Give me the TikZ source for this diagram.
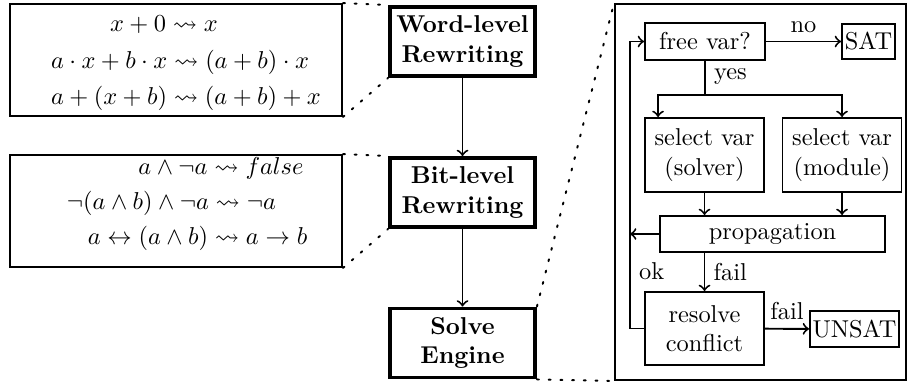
\documentclass[tikz,border=0pt]{standalone}
\usepackage{amsmath,amssymb}
\usetikzlibrary{positioning}
\usetikzlibrary{shapes.geometric, arrows}

\newdimen\px
\px=0.41pt

\begin{document}
\begin{tikzpicture}[x=\px, y=-\px]
\tikzstyle{stage} = [rectangle, draw, line width=1.6pt, font=\bfseries, align=center, minimum width=145\px, minimum height=69\px, inner sep=1pt]
\tikzstyle{rules} = [rectangle, draw, thick, minimum width=332\px, minimum height=112\px]
\tikzstyle{box} = [rectangle, draw, thick, align=center, inner sep=1pt]
\tikzstyle{arrow} = [thick,->]
\tikzstyle{zoomline} = [thick, loosely dotted, line cap=round]

\useasboundingbox (0,0) rectangle (907,381);

% rewriting rules
\node (wordrules) [rules] at (176,60) {};
\node (w1) at (164,25) {$x+0 \rightsquigarrow x$};
\node (w2) at (180,62) {$a\cdot x+b\cdot x \rightsquigarrow (a+b)\cdot x$};
\node (w3) at (186,98) {$a+(x+b) \rightsquigarrow (a+b)+x$};

\node (bitrules) [rules] at (176,211) {};
\node (b1) at (221,168) {$a\wedge\neg a \rightsquigarrow false$};
\node (b2) at (171.5,203) {$\neg(a\wedge b)\wedge\neg a \rightsquigarrow \neg a$};
\node (b3) at (197.5,238) {$a\leftrightarrow(a\wedge b) \rightsquigarrow a\rightarrow b$};

% pipeline
\node (word) [stage] at (462.5,41.5) {Word-level\\Rewriting};
\node (bit) [stage] at (462.5,192.5) {Bit-level\\Rewriting};
\node (solve) [stage] at (462.5,343) {Solve\\Engine};

\draw [arrow] (word) -- (bit);
\draw [arrow] (bit) -- (solve);

\draw [zoomline] (wordrules.north east) -- (word.north west);
\draw [zoomline] (wordrules.south east) -- (word.south west);
\draw [zoomline] (bitrules.north east) -- (bit.north west);
\draw [zoomline] (bitrules.south east) -- (bit.south west);

% solve engine detail
\node (engine) [rectangle, draw, thick, minimum width=291\px, minimum height=376\px] at (760.5,192) {};
\draw [zoomline] (solve.north east) -- (engine.north west);
\draw [zoomline] (solve.south east) -- (engine.south west);

\node (free) [box, minimum width=120\px, minimum height=37\px] at (705,41.5) {free var?};
\node (sat) [box, minimum width=53\px, minimum height=35\px] at (868.5,41.5) {SAT};
\node (solver) [box, minimum width=119\px, minimum height=74\px] at (704.5,155) {select var\\(solver)};
\node (module) [box, minimum width=119\px, minimum height=74\px] at (842,155) {select var\\(module)};
\node (prop) [box, minimum width=225\px, minimum height=36\px] at (772.5,234) {propagation};
\node (resolve) [box, minimum width=119\px, minimum height=73\px] at (704.5,328.5) {resolve\\conflict};
\node (unsat) [box, minimum width=85\px, minimum height=36\px] at (854.5,329) {UNSAT};

\coordinate (split) at (705,95);
\coordinate (loop) at (630,328.5);

\draw [arrow] (free) -- node[above] {no} (sat);
\draw [thick] (free.south) -- node[right, pos=0.45] {yes} (split);
\draw [arrow] (split) -| ([xshift=14\px]solver.north west);
\draw [arrow] (split) -| (module.north);
\draw [arrow] (solver.south) -- (solver.south |- prop.north);
\draw [arrow] (module.south) -- (module.south |- prop.north);
\draw [arrow] (prop.west) -- (prop.west -| loop);
\draw [arrow] (prop.south -| resolve) -- node[right] {fail} (resolve);
\draw [arrow] (resolve) -- node[above] {fail} (unsat);
\draw [arrow] (resolve.west) -- (loop) -- node[right, pos=0.2] {ok} (loop |- free.west) -- (free.west);
\end{tikzpicture}
\end{document}
